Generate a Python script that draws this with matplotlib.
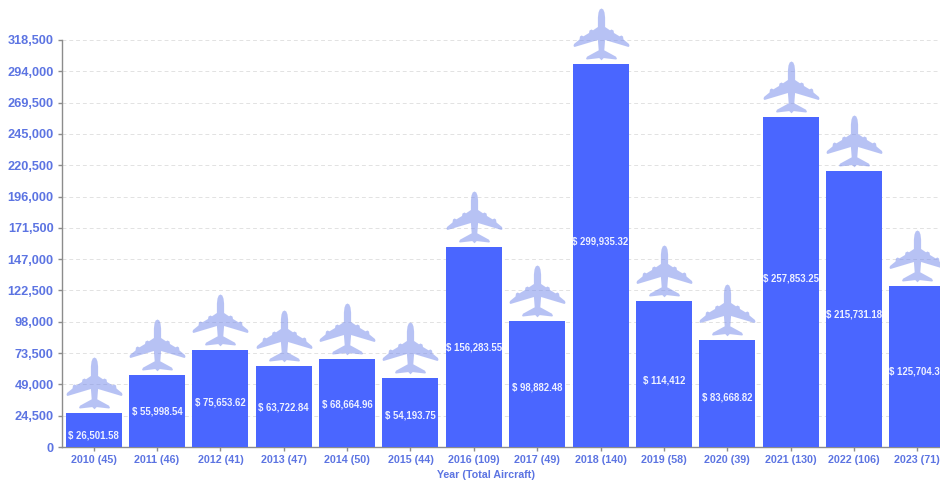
import matplotlib
matplotlib.use("Agg")
import matplotlib.pyplot as plt
from matplotlib.path import Path
from matplotlib.markers import MarkerStyle
from matplotlib.ticker import FuncFormatter

years = [2010, 2011, 2012, 2013, 2014, 2015, 2016, 2017, 2018, 2019, 2020, 2021, 2022, 2023]
aircraft = [45, 46, 41, 47, 50, 44, 109, 49, 140, 58, 39, 130, 106, 71]
values = [26501.58, 55998.54, 75653.62, 63722.84, 68664.96, 54193.75, 156283.55,
          98882.48, 299935.32, 114412, 83668.82, 257853.25, 215731.18, 125704.32]
y_ticks = [24500 * i for i in range(14)]

BAR = "#4a66ff"
PLANE = "#7187eb"
TEXT = "#5c74e2"
W, H = 940, 483

plt.rcParams["font.family"] = ["Liberation Sans", "DejaVu Sans"]


def plane_marker():
    # right half of the silhouette, pixels above the bar top, nose first
    half = [(0, 56), (1.8, 55), (3, 52), (3.6, 47), (3.6, 37.5),
            (8.5, 34.2), (10, 35), (12, 34), (12.5, 31.5), (18, 28.2), (20, 29),
            (21.5, 28), (22, 25), (27.5, 20.5), (28, 18.5), (27, 17.5),
            (3.6, 24.5), (2.8, 14.2), (14.5, 7.8), (15.5, 5.6), (14.5, 5),
            (2.2, 6.4), (0, 4.2)]
    verts = half + [(-x, y) for x, y in half[-2:0:-1]] + [half[0]]
    codes = [Path.MOVETO] + [Path.LINETO] * (len(verts) - 2) + [Path.CLOSEPOLY]
    return MarkerStyle(Path(verts, codes))


fig = plt.figure(figsize=(W / 100, H / 100), dpi=100)
ax = fig.add_axes([62 / W, (H - 447) / H, 887 / W, 407 / H])

x = list(range(len(years)))
ax.bar(x, values, width=0.885, color=BAR, zorder=3)
# matplotlib scales a custom marker by its largest vertex, 56 px here
ax.scatter(x, values, marker=plane_marker(), s=(0.72 * 56 * 2) ** 2, color=PLANE,
           alpha=0.5, linewidths=0, clip_on=False, zorder=4)

# the labels do not sit exactly mid-bar, shift in pixels (down is negative)
label_shift = [-5, 0, -3.7, -1.5, -1.5, -3.5, 0, -4, 13.5, -7, -3.5, 3.5, -5, -5]
for i, v in enumerate(values):
    label = f"$ {v:,.2f}".removesuffix(".00")
    ax.annotate(label, (i, v / 2), xytext=(0, label_shift[i] * 0.72),
                textcoords="offset points", ha="center", va="center", color="#eef1ff",
                fontsize=6.9, fontweight="bold", zorder=5, annotation_clip=False)

ax.set_xlim(-0.5, len(years) - 0.5)
ax.set_ylim(0, 318500)
ax.set_yticks(y_ticks)
ax.yaxis.set_major_formatter(FuncFormatter(lambda v, _: f"{v:,.0f}"))
ax.set_xticks(x)
ax.set_xticklabels([f"{y} ({n})" for y, n in zip(years, aircraft)])
ax.tick_params(axis="y", length=3, width=1, color="#8c8c8c", labelcolor=TEXT,
               labelsize=9.2, pad=3)
ax.tick_params(axis="x", length=3, width=1, color="#8c8c8c", labelcolor=TEXT,
               labelsize=7.7, pad=3)
for t in ax.get_xticklabels() + ax.get_yticklabels():
    t.set_fontweight("bold")

ax.grid(axis="y", color="#e2e2e2", linestyle=(0, (4, 3)), linewidth=0.7, zorder=0)
ax.set_axisbelow(True)
for side in ("top", "right"):
    ax.spines[side].set_visible(False)
for side in ("left", "bottom"):
    ax.spines[side].set_color("#8c8c8c")
    ax.spines[side].set_linewidth(1)

ax.set_xlabel("Year (Total Aircraft)", color=TEXT, fontsize=7.7, fontweight="bold")
ax.xaxis.set_label_coords((486 - 62) / 887, -23 / 407)

fig.savefig("out.png", dpi=100)
